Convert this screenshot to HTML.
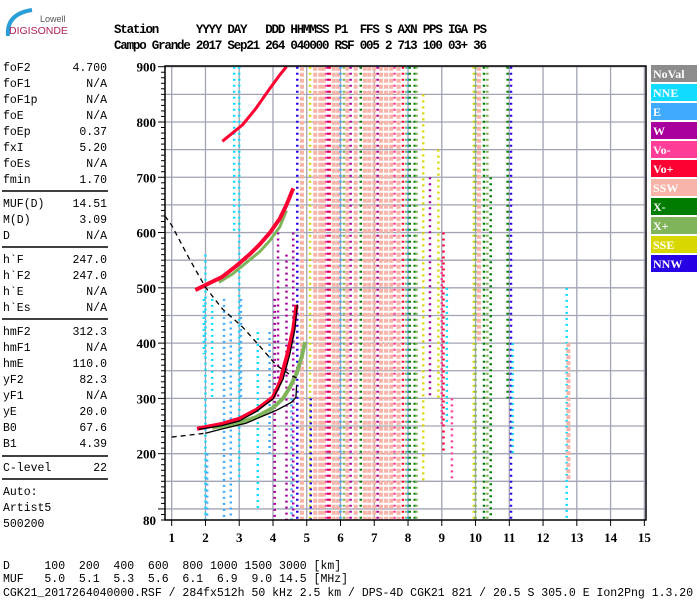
<!DOCTYPE html>
<html><head><meta charset="utf-8"><style>
html,body{margin:0;padding:0;background:#fff;}
svg{display:block;}
.mono{font-family:"Liberation Mono",monospace;font-size:11.5px;fill:#000;}
.hdr{font-family:"Liberation Mono",monospace;font-size:12.5px;font-weight:bold;fill:#000;letter-spacing:-1.2px;white-space:pre;}
.ax{font-family:"Liberation Serif",serif;font-size:13px;font-weight:bold;fill:#000;}
.lg{font-family:"Liberation Serif",serif;font-size:12px;font-weight:bold;fill:#fff;}
</style></head><body>
<svg id="chart" width="700" height="600" xmlns="http://www.w3.org/2000/svg">
<g>
<path d="M8 36 Q6 14 32 10" stroke="#2a9ed8" stroke-width="4" fill="none"/>
<text x="40" y="22" font-family="Liberation Sans,sans-serif" font-size="9" fill="#555">Lowell</text>
<text x="9" y="34" font-family="Liberation Sans,sans-serif" font-size="10.5" fill="#b0205a">DIGISONDE</text>
</g>
<text class="hdr" x="114" y="33" xml:space="preserve">Station      YYYY DAY   DDD HHMMSS P1  FFS S AXN PPS IGA PS</text>
<text class="hdr" x="114" y="49" xml:space="preserve">Campo Grande 2017 Sep21 264 040000 RSF 005 2 713 100 03+ 36</text>
<g id="params"></g>
<g id="plot"></g>
<g id="legend"></g>
<text class="mono" x="3" y="569" xml:space="preserve">D     100  200  400  600  800 1000 1500 3000 [km]</text>
<text class="mono" x="3" y="582" xml:space="preserve">MUF   5.0  5.1  5.3  5.6  6.1  6.9  9.0 14.5 [MHz]</text>
<text class="mono" x="3" y="596" xml:space="preserve">CGK21_2017264040000.RSF / 284fx512h 50 kHz 2.5 km / DPS-4D CGK21 821 / 20.5 S 305.0 E Ion2Png 1.3.20</text>
</svg>
<script>
const NS="http://www.w3.org/2000/svg";
// ---- data ----
const paramNames=["foF2","foF1","foF1p","foE","foEp","fxI","foEs","fmin","MUF(D)","M(D)","D","h`F","h`F2","h`E","h`Es","hmF2","hmF1","hmE","yF2","yF1","yE","B0","B1","C-level"];
const paramValues=["4.700","N/A","N/A","N/A","0.37","5.20","N/A","1.70","14.51","3.09","N/A","247.0","247.0","N/A","N/A","312.3","N/A","110.0","82.3","N/A","20.0","67.6","4.39","22"];
const yTicks=[900,800,700,600,500,400,300,200,80];
const xTicks=[1,2,3,4,5,6,7,8,9,10,11,12,13,14,15];
const legendKeys=["NoVal","NNE","E","W","Vo-","Vo+","SSW","X-","X+","SSE","NNW"];
const legendColors=["#8c8c8c","#10dcff","#40aaff","#a8009c","#ff3c96","#ff0032","#f8b4a8","#007d00","#80b45a","#d8d800","#2800e6"];
// traces
const o1F=[1.75,2.0,2.5,3.0,3.5,4.0,4.2,4.3,4.45,4.6,4.7];
const o1H=[245,248,254,263,279,302,328,351,385,425,469];
const x1F=[2.2,2.5,3.0,3.5,4.0,4.3,4.5,4.7,4.85,4.95];
const x1H=[247,250,256,266,283,300,320,345,375,402];
const o2F=[1.7,2.0,2.5,2.94,3.3,3.6,3.9,4.2,4.4,4.6];
const o2H=[496,505,520,541,560,578,599,625,650,680];
const x2F=[2.4,2.8,3.2,3.6,3.9,4.2,4.4];
const x2H=[510,525,545,565,585,610,640];
const o3F=[2.5,2.8,3.1,3.5,3.9,4.2,4.4];
const o3H=[765,780,795,825,860,885,900];
const fitF=[1.8,2.5,3.0,3.5,4.0,4.3,4.5,4.65,4.72];
const fitH=[244,251,259,276,299,335,380,425,470];
const profF=[2.0,2.44,3.2,4.12,4.55,4.68,4.7];
const profH=[237,244,255,279,293,302,324];
const profDashF=[1.0,2.0];
const profDashH=[230,237];
const dashF=[0.8,1.0,1.5,2.0,2.5,3.1,3.6,4.1,4.5,4.7];
const dashH=[630,613,555,501,462,429,395,360,343,337];
// interference columns: freq, colour key, hlo, hhi
const colF=[2.0,1.95,2.05,2.55,2.75,2.2,3.0,3.05,3.55,2.85,3.9,4.05,4.15,4.4,4.55,4.6,4.72,4.86,5.1,5.12,5.25,5.4,5.5,5.58,5.64,5.68,5.8,5.93,6.0,6.1,6.2,6.3,6.45,6.6,6.72,6.85,7.0,7.1,7.2,7.35,7.5,7.6,7.72,7.85,7.95,8.0,8.05,8.2,8.25,8.45,8.65,8.9,9.0,9.05,9.15,9.3,9.95,10.0,10.1,10.25,10.35,10.45,10.95,11.05,11.1,12.7,12.75];
const colK=["NNE","NNE","E","E","E","NNE","NNE","E","NNE","NNE","E","W","W","W","E","W","NNW","SSW","SSE","NNW","SSW","SSW","SSW","Vo-","W","Vo+","SSW","SSW","E","X+","SSW","W","SSW","X-","SSW","SSW","SSW","W","SSW","SSW","SSW","Vo-","SSW","Vo+","X+","E","X-","X-","X+","SSE","W","SSE","Vo-","Vo+","NNE","Vo-","SSE","X+","SSW","X-","X+","X-","X-","NNW","NNE","NNE","SSW"];
const colLo=[80,380,80,80,80,300,150,300,100,600,200,80,300,80,80,80,80,80,80,80,80,80,80,80,80,80,80,80,80,80,80,80,80,80,80,80,80,80,80,80,80,80,80,80,80,80,80,80,80,150,300,300,250,200,250,150,80,80,400,80,80,80,300,80,200,80,150];
const colHi=[560,480,200,480,450,480,900,480,420,900,420,480,600,560,300,600,900,900,900,300,900,900,900,900,900,900,900,900,900,900,900,900,900,900,900,900,900,900,900,900,900,900,900,900,900,900,900,900,900,850,700,750,550,600,500,300,900,900,900,900,900,700,900,900,400,500,400];
// ---- scales ----
const xS=f=>171.7+(f-1)*33.76;
const yS=h=>520-(h-80)*0.5528;
const colorOf=k=>legendColors[legendKeys.indexOf(k)];
function mk(tag,attrs,parent){const e=document.createElementNS(NS,tag);for(const k in attrs)e.setAttribute(k,attrs[k]);parent.appendChild(e);return e;}
// ---- parameter panel ----
const pg=document.getElementById('params');
const rowY=[67,83,99,115,131,147,163,179,203,219,235,259,275,291,307,331,347,363,379,395,411,427,443,467];
paramNames.forEach((n,i)=>{
  const t=mk('text',{x:3,y:rowY[i]+4,class:'mono'},pg);t.textContent=n;
  
  
  const v=mk('text',{x:107,y:rowY[i]+4,class:'mono','text-anchor':'end'},pg);v.textContent=paramValues[i];
  
  
});
[191,247,319,456,479].forEach(y=>{const l=mk('line',{x1:2,x2:108,y1:y,y2:y,stroke:'#000','stroke-width':1.5},pg);
  
  });
[['Auto:',495],['Artist5',511],['500200',527]].forEach(a=>{const t=mk('text',{x:3,y:a[1],class:'mono'},pg);t.textContent=a[0];
  
  });
// ---- plot ----
const pl=document.getElementById('plot');
for(let h=100;h<=900;h+=50){if(yS(h)<=520){const l=mk('line',{x1:165,x2:646,y1:yS(h),y2:yS(h),stroke:'#a0a4b4','stroke-width':1.3},pl);
  
  }}
xTicks.forEach(f=>{const l=mk('line',{x1:xS(f),x2:xS(f),y1:66,y2:520,stroke:'#a0a4b4','stroke-width':1.3},pl);
  
  });
// interference columns
colF.forEach((f,i)=>{
  const ssw=colK[i]==='SSW';
  const l=mk('line',{x1:xS(f),x2:xS(f),y1:yS(colHi[i]),y2:yS(colLo[i]),stroke:colorOf(colK[i]),'stroke-width':ssw?4:2.5,'stroke-dasharray':ssw?'4 2':'2 4'},pl);
  
  
});
function trace(F,H,key,name,w){
  const pts=F.map((f,i)=>xS(f)+','+yS(H[i])).join(' ');
  const p=mk('polyline',{points:pts,fill:'none',stroke:colorOf(key),'stroke-width':w,'stroke-linejoin':'round'},pl);
  
  
}
trace(x1F,x1H,'X+','x-trace-f2',4);
trace(o1F,o1H,'Vo+','o-trace-f2',4);
trace(x2F,x2H,'X+','x-trace-2hop',3);
trace(o2F,o2H,'Vo+','o-trace-2hop',4);
trace(o3F,o3H,'Vo+','o-trace-3hop',3);
function curve(F,H,name,dash,w){
  const pts=F.map((f,i)=>xS(f)+','+yS(H[i])).join(' ');
  const p=mk('polyline',{points:pts,fill:'none',stroke:'#000','stroke-width':w,'stroke-dasharray':dash},pl);
  
  
}
curve(fitF,fitH,'fitted-o-trace','none',1.3);
curve(profF,profH,'profile-curve','none',1.3);
curve(profDashF,profDashH,'profile-extrapolation','5 4',1.3);
curve(dashF,dashH,'muf-curve','5 4',1.3);
// axes frame
const fr=mk('rect',{x:165,y:66,width:481,height:454,fill:'none',stroke:'#000','stroke-width':1.5},pl);


for(let h=80;h<=900;h+=10){const l=mk('line',{x1:h%100===0?158:161,x2:165,y1:yS(h),y2:yS(h),stroke:'#000','stroke-width':1},pl);
  
  }
yTicks.forEach(h=>{const t=mk('text',{x:156,y:yS(h)+5,class:'ax','text-anchor':'end'},pl);t.textContent=h;
  
  });
xTicks.forEach(f=>{mk('line',{x1:xS(f),x2:xS(f),y1:520,y2:526,stroke:'#000','stroke-width':1},pl);
  const t=mk('text',{x:xS(f),y:542,class:'ax','text-anchor':'middle'},pl);t.textContent=f;
  
  });
// ---- legend ----
const lg=document.getElementById('legend');
legendKeys.forEach((k,i)=>{
  const y=65+i*19;
  const r=mk('rect',{x:651,y:y,width:46,height:17,fill:legendColors[i]},lg);
  
  
  const t=mk('text',{x:653,y:y+13,class:'lg'},lg);t.textContent=k;
  
  
});
</script>
</body></html>
